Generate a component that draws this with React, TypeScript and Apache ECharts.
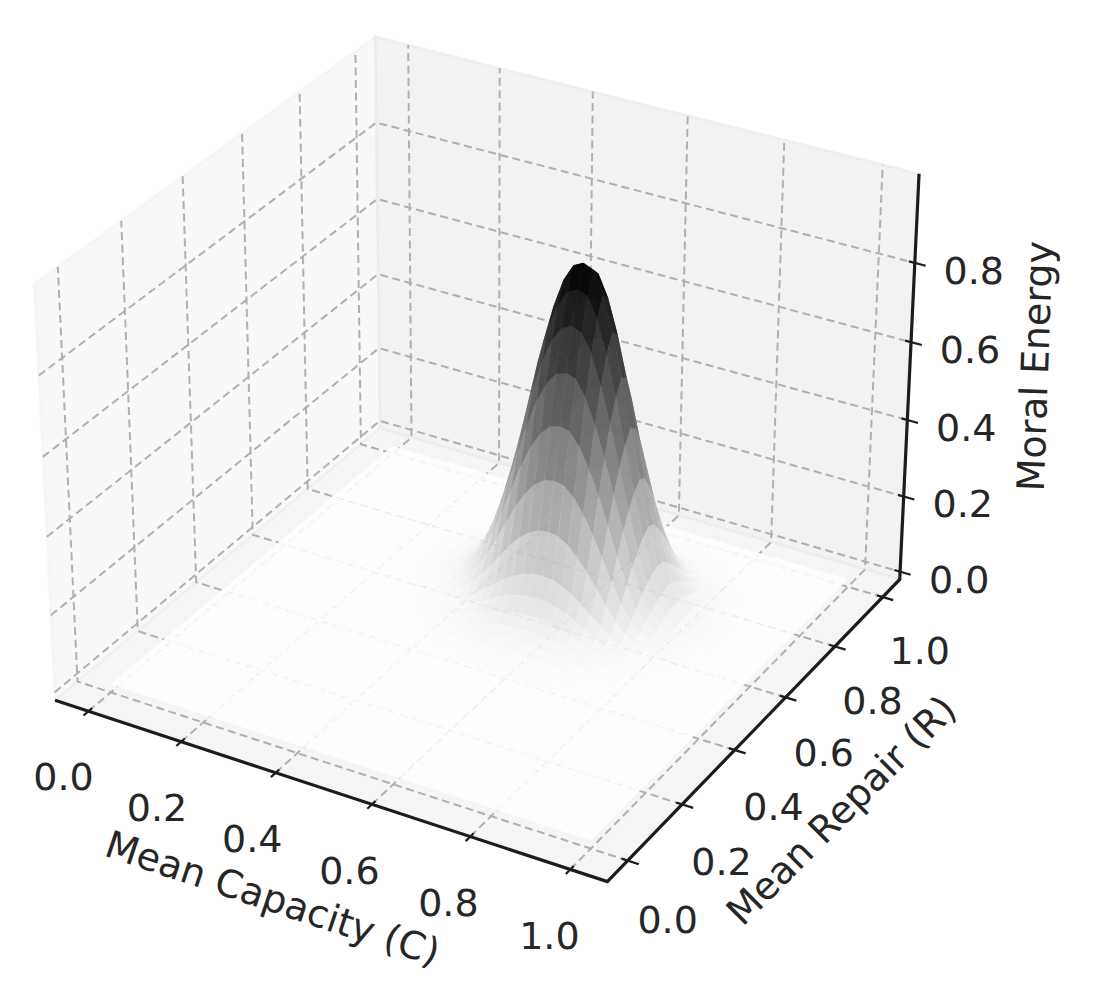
import React, { useEffect, useRef } from "react";
import * as echarts from "echarts";

// Axis titles and ticks
const capacityTicks = [0, 0.2, 0.4, 0.6, 0.8, 1.0];
const repairTicks = [0, 0.2, 0.4, 0.6, 0.8, 1.0];
const energyTicks = [0, 0.2, 0.4, 0.6, 0.8];
const capacityTitle = "Mean Capacity (C)";
const repairTitle = "Mean Repair (R)";
const energyTitle = "Moral Energy";

// The surface is sampled on 50 x 50 nodes; outside the block below it is flat at 0.
const nodesPerSide = 50;
const firstCapacityNode = 13;
const firstRepairNode = 19;
// Moral energy in thousandths, one row per repair node (19..48), columns are capacity nodes 13..43
const energyRows: number[][] = [
  [0,0,0,0,0,0,0,0,0,1,1,1,1,2,2,2,2,2,2,2,1,1,1,1,0,0,0,0,0,0,0],
  [0,0,0,0,0,0,0,1,1,1,2,2,3,3,4,4,4,4,4,3,3,2,2,1,1,0,0,0,0,0,0],
  [0,0,0,0,0,0,1,1,2,3,4,5,6,7,7,8,8,8,7,7,6,4,3,2,1,1,1,0,0,0,0],
  [0,0,0,0,0,1,1,2,3,5,7,9,11,13,14,15,15,15,14,12,10,8,6,4,2,2,1,1,0,0,0],
  [0,0,0,0,1,1,2,4,6,9,12,16,19,22,24,26,26,26,24,21,18,14,11,7,4,3,2,1,1,0,0],
  [0,0,0,1,1,2,4,6,10,14,19,25,31,36,39,41,42,41,39,35,29,23,17,12,7,5,3,2,1,0,0],
  [0,0,1,1,2,4,6,10,15,22,30,40,49,56,62,65,66,65,61,54,46,37,27,18,11,7,5,3,1,1,0],
  [0,0,1,2,3,5,9,15,23,34,46,60,74,85,94,99,100,99,92,82,70,56,41,28,17,11,7,4,2,1,1],
  [0,1,1,2,4,8,13,22,34,49,67,87,108,124,136,144,146,144,135,120,102,81,60,40,24,16,10,6,3,2,1],
  [0,1,2,4,7,13,23,37,57,83,114,148,183,210,231,243,247,244,228,203,172,137,101,68,41,27,17,10,5,3,1],
  [1,1,3,6,11,20,34,55,84,123,169,220,271,312,343,361,367,362,339,302,256,204,150,101,61,40,26,15,8,4,2],
  [1,2,4,8,15,27,45,74,114,165,227,296,365,420,462,486,494,488,456,406,345,274,202,136,81,54,35,20,11,5,2],
  [1,2,5,10,18,33,57,92,142,206,283,370,456,524,576,607,616,609,569,507,430,342,253,169,102,68,43,25,14,7,3],
  [1,3,6,12,22,39,66,108,166,242,332,433,534,613,675,711,722,713,667,594,504,400,296,198,119,79,51,29,16,8,4],
  [1,3,6,13,24,43,74,120,185,269,369,481,594,682,750,790,802,793,741,660,560,445,329,221,132,88,56,32,18,9,4],
  [1,3,7,14,26,46,79,129,197,287,394,514,634,728,801,844,857,847,792,705,598,476,351,236,141,94,60,34,19,9,4],
  [1,3,7,13,25,45,77,125,192,280,384,501,618,709,780,822,835,825,771,687,583,463,342,230,138,92,58,33,18,9,4],
  [1,3,6,12,22,40,68,111,171,249,342,446,550,632,695,732,743,734,687,611,519,412,305,204,123,82,52,30,16,8,4],
  [1,3,5,10,19,34,58,95,145,211,290,378,467,536,590,621,631,623,583,519,440,350,259,173,104,69,44,25,14,7,3],
  [1,2,4,8,15,27,46,75,115,167,230,300,370,425,467,492,500,494,462,411,349,277,205,137,82,55,35,20,11,5,2],
  [1,1,3,6,11,20,34,56,85,124,170,222,274,315,346,365,370,366,342,305,258,205,152,102,61,41,26,15,8,4,2],
  [0,1,2,4,8,14,24,38,59,86,118,154,190,218,240,252,256,253,237,211,179,142,105,70,42,28,18,10,6,3,1],
  [0,1,1,3,5,9,15,25,38,56,76,100,123,141,155,164,166,164,154,137,116,92,68,46,27,18,12,7,4,2,1],
  [0,0,1,2,3,6,9,15,23,34,47,61,75,87,95,100,102,101,94,84,71,57,42,28,17,11,7,4,2,1,1],
  [0,0,0,1,2,3,5,9,14,20,27,35,44,50,55,58,59,58,55,49,41,33,24,16,10,7,4,2,1,1,0],
  [0,0,0,0,1,2,3,5,7,10,14,19,23,26,29,30,31,31,29,25,22,17,13,8,5,3,2,1,1,0,0],
  [0,0,0,0,0,1,1,2,4,5,7,10,12,14,15,16,16,16,15,13,11,9,7,4,3,2,1,1,0,0,0],
  [0,0,0,0,0,0,1,1,2,2,3,4,5,6,7,7,7,7,6,6,5,4,3,2,1,1,0,0,0,0,0],
  [0,0,0,0,0,0,0,0,1,1,1,2,2,3,3,3,3,3,3,2,2,2,1,1,0,0,0,0,0,0,0],
  [0,0,0,0,0,0,0,0,0,0,0,1,1,1,1,1,1,1,1,1,1,1,0,0,0,0,0,0,0,0,0],
];

// Scales of the 3D box (the limits, the pane overhang, and the camera)
const xLim = [-0.05, 1.05];
const yLim = [-0.05, 1.05];
const zLim = [0, 1];
const overhang = 1 / 48;
const boxSize = [1.1906, 1.1906, 0.8929];
const camU = [0.866, 0.5, 0];
const camV = [-0.25, 0.433, 0.866];
const camW = [0.433, -0.75, 0.5];
const camDist = 10;
const screenScale = 5100;
const screenX = 485.5;
const screenY = 438;

const depthOf = (x: number, y: number, z: number) => {
  const q = norm3(x, y, z);
  return camDist - (q[0] * camW[0] + q[1] * camW[1] + q[2] * camW[2]);
};
function norm3(x: number, y: number, z: number) {
  return [
    ((x - xLim[0]) / (xLim[1] - xLim[0]) - 0.5) * boxSize[0],
    ((y - yLim[0]) / (yLim[1] - yLim[0]) - 0.5) * boxSize[1],
    ((z - zLim[0]) / (zLim[1] - zLim[0]) - 0.5) * boxSize[2],
  ];
}
const project = (x: number, y: number, z: number): [number, number] => {
  const q = norm3(x, y, z);
  const d = camDist - (q[0] * camW[0] + q[1] * camW[1] + q[2] * camW[2]);
  return [
    screenX + (screenScale * (q[0] * camU[0] + q[1] * camU[1] + q[2] * camU[2])) / d,
    screenY - (screenScale * (q[0] * camV[0] + q[1] * camV[1] + q[2] * camV[2])) / d,
  ];
};

const x0 = xLim[0] - (xLim[1] - xLim[0]) * overhang;
const x1 = xLim[1] + (xLim[1] - xLim[0]) * overhang;
const y0 = yLim[0] - (yLim[1] - yLim[0]) * overhang;
const y1 = yLim[1] + (yLim[1] - yLim[0]) * overhang;
const z0 = zLim[0] - (zLim[1] - zLim[0]) * overhang;
const z1 = zLim[1] + (zLim[1] - zLim[0]) * overhang;

const energyAt = (i: number, j: number) => {
  const row = energyRows[j - firstRepairNode];
  const v = row ? row[i - firstCapacityNode] : 0;
  return (v || 0) / 1000;
};
const nodePos = (k: number) => k / (nodesPerSide - 1);

type Face = { pts: [number, number][]; avg: number; depth: number };
const faces: Face[] = [];
for (let j = 0; j < nodesPerSide - 1; j++) {
  for (let i = 0; i < nodesPerSide - 1; i++) {
    const corners: [number, number][] = [[i, j], [i + 1, j], [i + 1, j + 1], [i, j + 1]];
    let avg = 0;
    let depth = 0;
    const pts = corners.map(([a, b]) => {
      const z = energyAt(a, b);
      avg += z / 4;
      depth += depthOf(nodePos(a), nodePos(b), z) / 4;
      return project(nodePos(a), nodePos(b), z);
    });
    faces.push({ pts, avg, depth });
  }
}
faces.sort((a, b) => b.depth - a.depth);
const maxAvg = Math.max(...faces.map((f) => f.avg));
const faceColor = (v: number) => {
  const g = Math.round(255 * (1 - Math.min(1, v / maxAvg)));
  return `rgba(${g},${g},${g},0.9)`;
};

const FONT = '"DejaVu Sans"';
const INK = "#262626";
const GRID = "#b0b0b0";
const tickSize = 38;
const titleSize = 38;

type Mark = any;
const paneMarks: Mark[] = [
  { pts: [project(x0, y0, z0), project(x0, y1, z0), project(x0, y1, z1), project(x0, y0, z1)], fill: "rgba(242,242,242,0.5)" },
  { pts: [project(x0, y1, z0), project(x1, y1, z0), project(x1, y1, z1), project(x0, y1, z1)], fill: "rgba(230,230,230,0.5)" },
  { pts: [project(x0, y0, z0), project(x1, y0, z0), project(x1, y1, z0), project(x0, y1, z0)], fill: "rgba(236,236,236,0.5)" },
];
const gridMarks: [number, number][][] = [
  ...capacityTicks.map((c) => [project(c, y0, z0), project(c, y1, z0), project(c, y1, z1)]),
  ...repairTicks.map((r) => [project(x1, r, z0), project(x0, r, z0), project(x0, r, z1)]),
  ...energyTicks.map((e) => [project(x0, y0, e), project(x0, y1, e), project(x1, y1, e)]),
];
const axisMarks: { pts: [number, number][]; w: number }[] = [
  { pts: [project(x0, y0, z0), project(x1, y0, z0), project(x1, y1, z0), project(x1, y1, z1)], w: 3.2 },
  ...capacityTicks.map((c) => ({ pts: [project(c, y0 + 0.012, z0), project(c, y0 - 0.016, z0)] as [number, number][], w: 2.2 })),
  ...repairTicks.map((r) => ({ pts: [project(x1 - 0.012, r, z0), project(x1 + 0.022, r, z0)] as [number, number][], w: 2.2 })),
  ...energyTicks.map((e) => ({ pts: [project(x1 - 0.012, y1, e), project(x1 + 0.022, y1, e)] as [number, number][], w: 2.2 })),
];
const lerp = (a: number, b: number, t: number) => a + (b - a) * t;
const place = (p: [number, number], dx: number, dy: number) => [p[0] + dx, p[1] + dy];
const labelMarks: { p: number[]; text: string; size: number; rot: number }[] = [
  ...capacityTicks.map((c) => ({ p: place(project(c, y0, z0), lerp(-25, -21, c), lerp(66, 67, c)), text: c.toFixed(1), size: tickSize, rot: 0 })),
  ...repairTicks.map((r) => ({ p: place(project(x1, r, z0), lerp(40, 37, r), lerp(59, 54, r)), text: r.toFixed(1), size: tickSize, rot: 0 })),
  ...energyTicks.map((e) => ({ p: place(project(x1, y1, e), 59, 8), text: e.toFixed(1), size: tickSize, rot: 0 })),
  { p: place(project(0.5, y0, z0), -51, 110), text: capacityTitle, size: titleSize, rot: -18.5 },
  { p: place(project(x1, 0.5, z0), 81, 87), text: repairTitle, size: titleSize, rot: 45 },
  { p: place(project(x1, y1, 0.5), 126, -15), text: energyTitle, size: titleSize, rot: 88 },
];

const indexData = (n: number) => Array.from({ length: n }, (_, i) => [i]);

function customSeries(n: number, render: (i: number) => any, z: number) {
  return {
    type: "custom",
    coordinateSystem: "none",
    silent: true,
    z,
    clip: false,
    data: indexData(n),
    renderItem: (params: any) => render(params.dataIndex),
  };
}

const option: any = {
  animation: false,
  backgroundColor: "#ffffff",
  series: [
    customSeries(paneMarks.length, (i) => ({
      type: "polygon",
      shape: { points: paneMarks[i].pts },
      style: { fill: paneMarks[i].fill, stroke: paneMarks[i].fill, lineWidth: 2.5 },
    }), 1),
    customSeries(gridMarks.length, (i) => ({
      type: "polyline",
      shape: { points: gridMarks[i] },
      style: { fill: "none", stroke: GRID, lineWidth: 2, lineDash: [8, 4.5] },
    }), 2),
    customSeries(faces.length, (i) => ({
      type: "polygon",
      shape: { points: faces[i].pts },
      style: { fill: faceColor(faces[i].avg), stroke: "none" },
    }), 3),
    customSeries(axisMarks.length, (i) => ({
      type: "polyline",
      shape: { points: axisMarks[i].pts },
      style: { fill: "none", stroke: "#1c1c1c", lineWidth: axisMarks[i].w, lineJoin: "miter" },
    }), 4),
    customSeries(labelMarks.length, (i) => ({
      type: "text",
      x: labelMarks[i].p[0],
      y: labelMarks[i].p[1],
      rotation: (labelMarks[i].rot * Math.PI) / 180,
      style: {
        text: labelMarks[i].text,
        x: 0,
        y: 0,
        fill: INK,
        fontFamily: FONT,
        fontSize: labelMarks[i].size,
        align: "center",
        verticalAlign: "middle",
        textAlign: "center",
        textVerticalAlign: "middle",
      },
    }), 5),
  ],
};

export default function App() {
  const ref = useRef<HTMLDivElement>(null);
  useEffect(() => {
    const chart = echarts.init(ref.current!, undefined, { renderer: "svg" });
    chart.setOption(option);
    return () => chart.dispose();
  }, []);
  return <div ref={ref} style={{ position: "absolute", left: 0, top: 0, width: 1096, height: 1005 }} />;
}
